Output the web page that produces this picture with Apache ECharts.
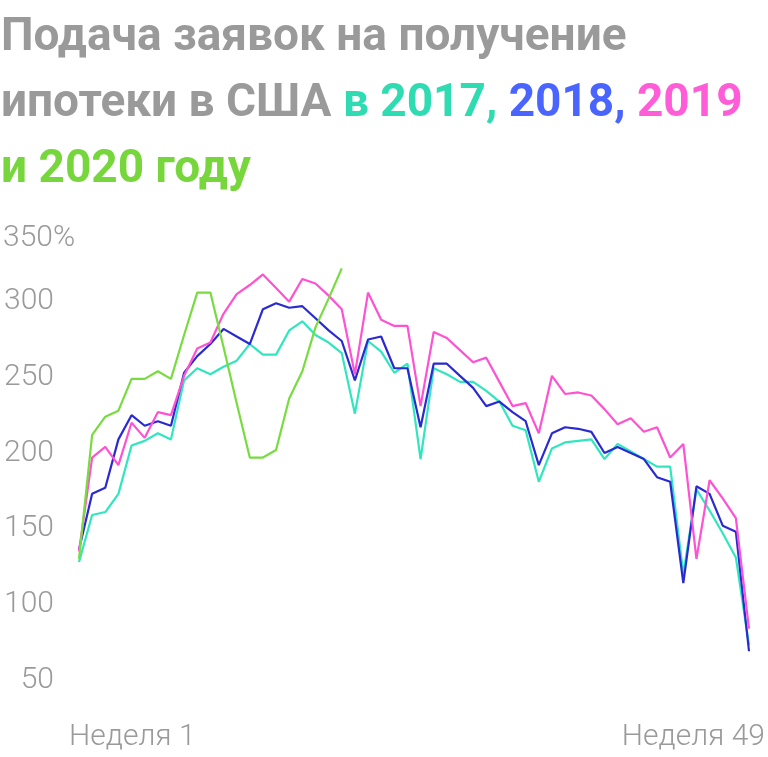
<!DOCTYPE html>
<html>
<head>
<meta charset="utf-8">
<script src="https://cdn.jsdelivr.net/npm/echarts@6/dist/echarts.min.js"></script>
<style>html,body{margin:0;padding:0;background:#fff;}#c{width:768px;height:757px;}</style>
</head>
<body>
<div id="c"></div>
<script>
const weeks = ['1','2','3','4','5','6','7','8','9','10','11','12','13','14','15','16','17','18','19','20','21','22','23','24','25','26','27','28','29','30','31','32','33','34','35','36','37','38','39','40','41','42','43','44','45','46','47','48','49','50','51','52'];
const xTickLabels = ['Неделя 1', 'Неделя 49'];
const yTicks = [50, 100, 150, 200, 250, 300, 350];

const s2017 = [128,159,161,173,205,208,213,209,248,256,252,257,261,272,265,265,281,287,278,273,266,226,274,267,253,259,196,256,252,247,247,241,234,218,215,181,203,207,208,209,196,206,201,196,191,191,120,176,162,147,131,73];
const s2018 = [136,173,177,209,225,218,221,218,253,264,272,282,277,272,295,299,296,297,289,281,274,248,275,277,256,256,217,259,259,251,243,231,234,227,221,192,213,217,216,214,200,204,200,196,184,181,114,178,173,152,148,69];
const s2019 = [135,197,204,192,220,210,227,225,251,269,273,292,305,311,318,309,300,315,312,304,295,252,306,288,284,284,231,280,276,268,260,263,247,231,233,213,251,239,240,238,229,219,223,214,217,197,206,130,182,170,157,84];
const s2020 = [130,212,224,228,249,249,254,249,278,306,306,270,233,197,197,202,236,254,283,302,322];

const C17 = '#30e6bf', C18 = '#2a2ad2', C19 = '#ff52d2', C20 = '#78dc40';

const chart = echarts.init(document.getElementById('c'));
const labelFont = 'Roboto';
const tf = {fontFamily: 'Roboto', fontWeight: 'bold', fontSize: 46, lineHeight: 66};
chart.setOption({
  animation: false,
  backgroundColor: '#ffffff',
  title: {
    left: 1, top: 5, padding: 0,
    text: '{g|Подача заявок на получение}\n{g|ипотеки в США }{a|в 2017, }{b|2018, }{c|2019}\n{d|и 2020 году}',
    textStyle: {
      rich: {
        g: Object.assign({color: '#9a9a9a'}, tf),
        a: Object.assign({color: '#2fdcb2'}, tf),
        b: Object.assign({color: '#4a64ff'}, tf),
        c: Object.assign({color: '#ff5cd8'}, tf),
        d: Object.assign({color: '#76d63c'}, tf)
      }
    }
  },
  grid: {left: 77, right: 18, top: 226, bottom: 77, containLabel: false},
  xAxis: {
    type: 'category', data: weeks, boundaryGap: false,
    axisLine: {show: false}, axisTick: {show: false}, splitLine: {show: false},
    axisLabel: {
      interval: (i) => i === 0 || i === weeks.length - 1,
      formatter: (v, i) => i === 0 ? '{l|' + xTickLabels[0] + '}' : '{r|' + xTickLabels[1] + '}',
      alignMinLabel: 'right', alignMaxLabel: 'left',
      margin: 42,
      rich: {
        l: {width: 10, align: 'left', fontFamily: labelFont, fontWeight: 300, fontSize: 30, color: '#9a9a9a'},
        r: {width: 16, align: 'right', fontFamily: labelFont, fontWeight: 300, fontSize: 30, color: '#9a9a9a'}
      }
    }
  },
  yAxis: {
    type: 'value', min: yTicks[0], max: yTicks[yTicks.length - 1], interval: 50,
    axisLine: {show: false}, axisTick: {show: false}, splitLine: {show: false},
    axisLabel: {
      margin: 25,
      fontFamily: labelFont, fontWeight: 300, fontSize: 30, color: '#9a9a9a',
      formatter: (v) => v === yTicks[yTicks.length - 1] ? '{t|' + v + '%}' : String(v),
      rich: {
        t: {width: 51, align: 'left', padding: [24, 0, 0, 0], fontFamily: labelFont, fontWeight: 300, fontSize: 30, color: '#9a9a9a'}
      }
    }
  },
  series: [
    {name: '2017', type: 'line', data: s2017, showSymbol: false, lineStyle: {color: C17, width: 2.2}, itemStyle: {color: C17}},
    {name: '2018', type: 'line', data: s2018, showSymbol: false, lineStyle: {color: C18, width: 2.2}, itemStyle: {color: C18}},
    {name: '2019', type: 'line', data: s2019, showSymbol: false, lineStyle: {color: C19, width: 2.2}, itemStyle: {color: C19}},
    {name: '2020', type: 'line', data: s2020, showSymbol: false, lineStyle: {color: C20, width: 2.2}, itemStyle: {color: C20}}
  ]
});
</script>
</body>
</html>
